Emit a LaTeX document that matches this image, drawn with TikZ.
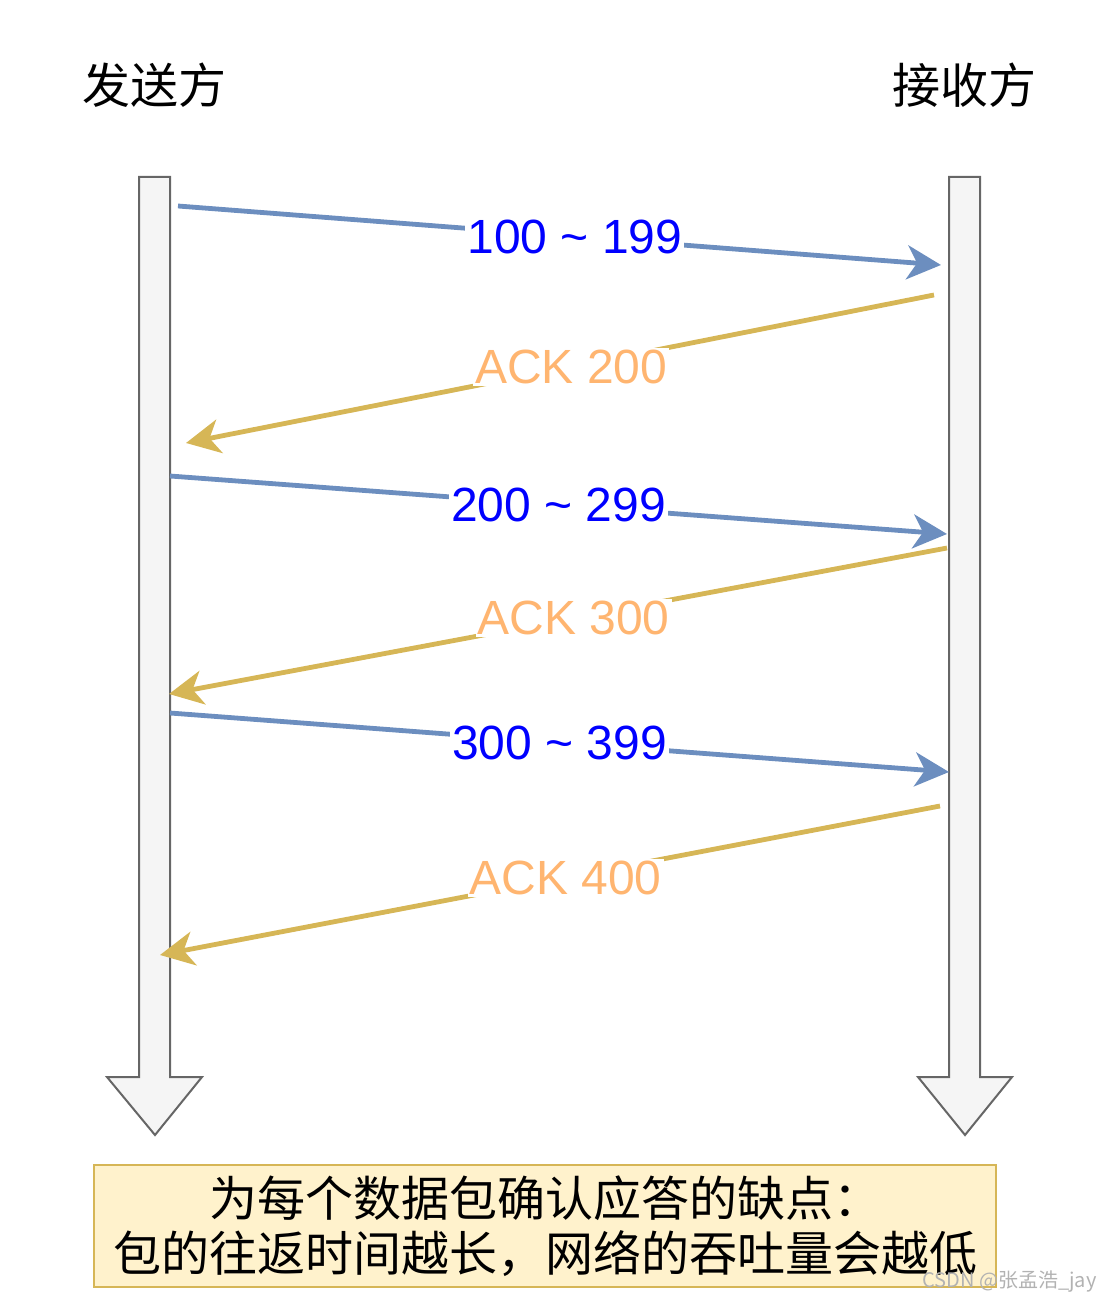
\documentclass[tikz,border=0pt]{standalone}
\usepackage{fontspec}
\setmainfont{Liberation Sans}
\newfontfamily\cjk{Noto Sans CJK SC}
\usepackage{tikz}
\usetikzlibrary{arrows.meta}
\definecolor{msgline}{HTML}{6C8EBF}
\definecolor{ackline}{HTML}{D6B656}
\definecolor{msgtext}{HTML}{0000FF}
\definecolor{acktext}{HTML}{FFB570}
\definecolor{lifefill}{HTML}{F5F5F5}
\definecolor{lifedraw}{HTML}{666666}
\definecolor{notefill}{HTML}{FFF2CC}
\tikzset{
	title/.style={font=\cjk\fontsize{24}{28}\selectfont},
	lifeline/.style={draw=lifedraw, fill=lifefill, line width=1pt, line join=miter},
	msg/.style={draw=msgline, line width=2.4pt, -{Stealth[length=17pt, width=17pt, inset=5pt]}},
	ack/.style={draw=ackline, line width=2.4pt, -{Stealth[length=17pt, width=17pt, inset=5pt]}},
	msglabel/.style={fill=white, text=msgtext, inner sep=1pt, font=\fontsize{24}{28}\selectfont},
	acklabel/.style={fill=white, text=acktext, inner sep=1pt, font=\fontsize{24}{28}\selectfont},
	note/.style={draw=ackline, fill=notefill, line width=1pt, minimum width=451pt, minimum height=61pt, align=center, inner sep=0pt, font=\cjk\fontsize{24}{27.5}\selectfont},
	watermark/.style={text=gray!60, inner sep=0pt, font=\cjk\fontsize{10}{12}\selectfont}
}
\begin{document}
\begin{tikzpicture}[x=0.5pt, y=-0.5pt]
	\useasboundingbox (0,0) rectangle (1110,1304);
	\node(sender)[title] at (154,85){发送方};
	\node(receiver)[title] at (964,85){接收方};
	% lifelines
	\draw[lifeline](139,177) -- (170,177) -- (170,1077) -- (202,1077) -- (155,1135) -- (107,1077) -- (139,1077) -- cycle;
	\draw[lifeline](949,177) -- (980,177) -- (980,1077) -- (1012,1077) -- (965,1135) -- (918,1077) -- (949,1077) -- cycle;
	\coordinate(s1) at (178,206);
	\coordinate(r1) at (941,265);
	\coordinate(r2) at (934,295);
	\coordinate(s2) at (186,443);
	\coordinate(s3) at (170,476);
	\coordinate(r3) at (947,534);
	\coordinate(r4) at (947,548);
	\coordinate(s4) at (169,694);
	\coordinate(s5) at (170,713);
	\coordinate(r5) at (949,772);
	\coordinate(r6) at (940,806);
	\coordinate(s6) at (160,955);
	% segments and acks
	\draw[msg](s1) to node[msglabel, pos=0.52]{100 \textasciitilde{} 199}(r1);
	\draw[ack](r2) to node[acklabel, pos=0.485]{ACK 200}(s2);
	\draw[msg](s3) to node[msglabel]{200 \textasciitilde{} 299}(r3);
	\draw[ack](r4) to node[acklabel, pos=0.48]{ACK 300}(s4);
	\draw[msg](s5) to node[msglabel]{300 \textasciitilde{} 399}(r5);
	\draw[ack](r6) to node[acklabel, pos=0.48]{ACK 400}(s6);
	\node(note)[note] at (545,1226){为每个数据包确认应答的缺点：\\包的往返时间越长，网络的吞吐量会越低};
	\node(mark)[watermark, anchor=east] at (1097,1282){CSDN @张孟浩\_jay};
\end{tikzpicture}
\end{document}
